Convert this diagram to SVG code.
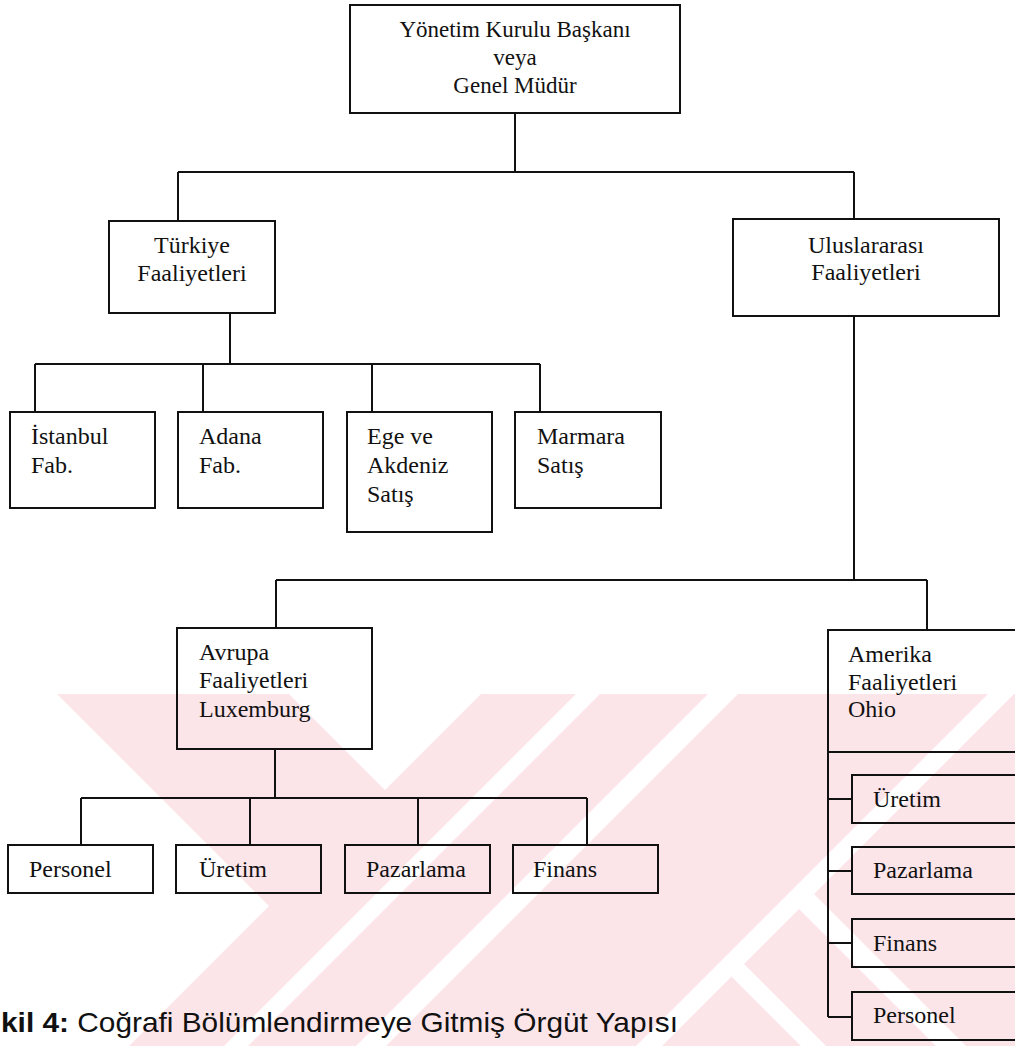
<svg xmlns="http://www.w3.org/2000/svg" width="1015" height="1046" viewBox="0 0 1015 1046">
<style>
.bg{fill:#ffffff}
.wm{fill:#fce5e9}
.wg{fill:#ffffff}
.box{fill:none;stroke:#111;stroke-width:2}
.ln{fill:none;stroke:#111;stroke-width:2}
.t{font-family:"Liberation Serif","Times New Roman",serif;font-size:24px;fill:#111}
.tc{text-anchor:middle}
.top{font-size:23px}
.cap{font-family:"Liberation Sans",Arial,sans-serif;font-size:28px;fill:#111}
</style>
<rect class="bg" x="0" y="0" width="1015" height="1046"/>
<g id="watermark">
<polygon class="wm" points="57,694 289,694 641,1046 409,1046"/>
<polygon class="wm" points="481,694 1015,694 1015,1046 129,1046"/>
<polygon class="wg" points="576,694 600,694 248,1046 224,1046"/>
<polygon class="wg" points="708,694 738,694 386,1046 356,1046"/>
<polygon class="wg" points="988,694 1014,694 662,1046 636,1046"/>
<polygon class="wg" points="731.5,976.5 744,964 826,1046 801,1046"/>
<polygon class="wg" points="799,909 814,894 966,1046 936,1046"/>
</g>
<g id="connectors">
<path class="ln" d="M515,113 V172 M178,172 H854 M178,172 V221 M854,172 V219"/>
<path class="ln" d="M230,313 V364 M35,364 H540 M35,364 V412 M203,364 V412 M372,364 V412 M540,364 V412"/>
<path class="ln" d="M854,316 V580 M276,580 H927 M276,580 V628 M927,580 V630"/>
<path class="ln" d="M275,749 V798 M81,798 H587 M81,798 V845 M250,798 V845 M418,798 V845 M587,798 V845"/>
<path class="ln" d="M828,799 H852 M828,871 H852 M828,943 H852 M828,1017 H852"/>
</g>
<g id="n-ceo">
<rect class="box" x="350" y="5" width="330" height="108"/>
<text class="t tc top" x="515" y="37">Yönetim Kurulu Başkanı</text>
<text class="t tc top" x="515" y="65">veya</text>
<text class="t tc top" x="515" y="93">Genel Müdür</text>
</g>
<g id="n-turkiye">
<rect class="box" x="109" y="221" width="166" height="92"/>
<text class="t tc" x="192" y="253">Türkiye</text>
<text class="t tc" x="192" y="281">Faaliyetleri</text>
</g>
<g id="n-uluslararasi">
<rect class="box" x="733" y="219" width="266" height="97"/>
<text class="t tc" x="866" y="253">Uluslararası</text>
<text class="t tc" x="866" y="280">Faaliyetleri</text>
</g>
<g id="n-istanbul">
<rect class="box" x="10" y="412" width="145" height="96"/>
<text class="t" x="31" y="444">İstanbul</text>
<text class="t" x="31" y="473">Fab.</text>
</g>
<g id="n-adana">
<rect class="box" x="178" y="412" width="145" height="96"/>
<text class="t" x="199" y="444">Adana</text>
<text class="t" x="199" y="473">Fab.</text>
</g>
<g id="n-ege">
<rect class="box" x="347" y="412" width="145" height="120"/>
<text class="t" x="367" y="444">Ege ve</text>
<text class="t" x="367" y="473">Akdeniz</text>
<text class="t" x="367" y="502">Satış</text>
</g>
<g id="n-marmara">
<rect class="box" x="515" y="412" width="146" height="96"/>
<text class="t" x="537" y="444">Marmara</text>
<text class="t" x="537" y="473">Satış</text>
</g>
<g id="n-avrupa">
<rect class="box" x="177" y="628" width="195" height="121"/>
<text class="t" x="199" y="660">Avrupa</text>
<text class="t" x="199" y="688">Faaliyetleri</text>
<text class="t" x="199" y="717">Luxemburg</text>
</g>
<g id="n-av-personel">
<rect class="box" x="8" y="845" width="145" height="48"/>
<text class="t" x="29" y="877">Personel</text>
</g>
<g id="n-av-uretim">
<rect class="box" x="176" y="845" width="145" height="48"/>
<text class="t" x="199" y="877">Üretim</text>
</g>
<g id="n-av-pazarlama">
<rect class="box" x="345" y="845" width="145" height="48"/>
<text class="t" x="366" y="877">Pazarlama</text>
</g>
<g id="n-av-finans">
<rect class="box" x="513" y="845" width="145" height="48"/>
<text class="t" x="533" y="877">Finans</text>
</g>
<g id="n-amerika">
<path class="box" d="M1022,630 H828 V1017 M828,752 H1022"/>
<text class="t" x="848" y="662">Amerika</text>
<text class="t" x="848" y="690">Faaliyetleri</text>
<text class="t" x="848" y="717">Ohio</text>
</g>
<g id="n-am-uretim">
<rect class="box" x="852" y="775" width="175" height="48"/>
<text class="t" x="873" y="807">Üretim</text>
</g>
<g id="n-am-pazarlama">
<rect class="box" x="852" y="847" width="175" height="47"/>
<text class="t" x="873" y="878">Pazarlama</text>
</g>
<g id="n-am-finans">
<rect class="box" x="852" y="919" width="175" height="48"/>
<text class="t" x="873" y="951">Finans</text>
</g>
<g id="n-am-personel">
<rect class="box" x="852" y="992" width="175" height="48"/>
<text class="t" x="873" y="1023">Personel</text>
</g>
<g id="caption">
<text class="cap" x="1" y="1032" textLength="677" lengthAdjust="spacingAndGlyphs"><tspan font-weight="bold">kil 4:</tspan> Coğrafi Bölümlendirmeye Gitmiş Örgüt Yapısı</text>
</g>
</svg>
